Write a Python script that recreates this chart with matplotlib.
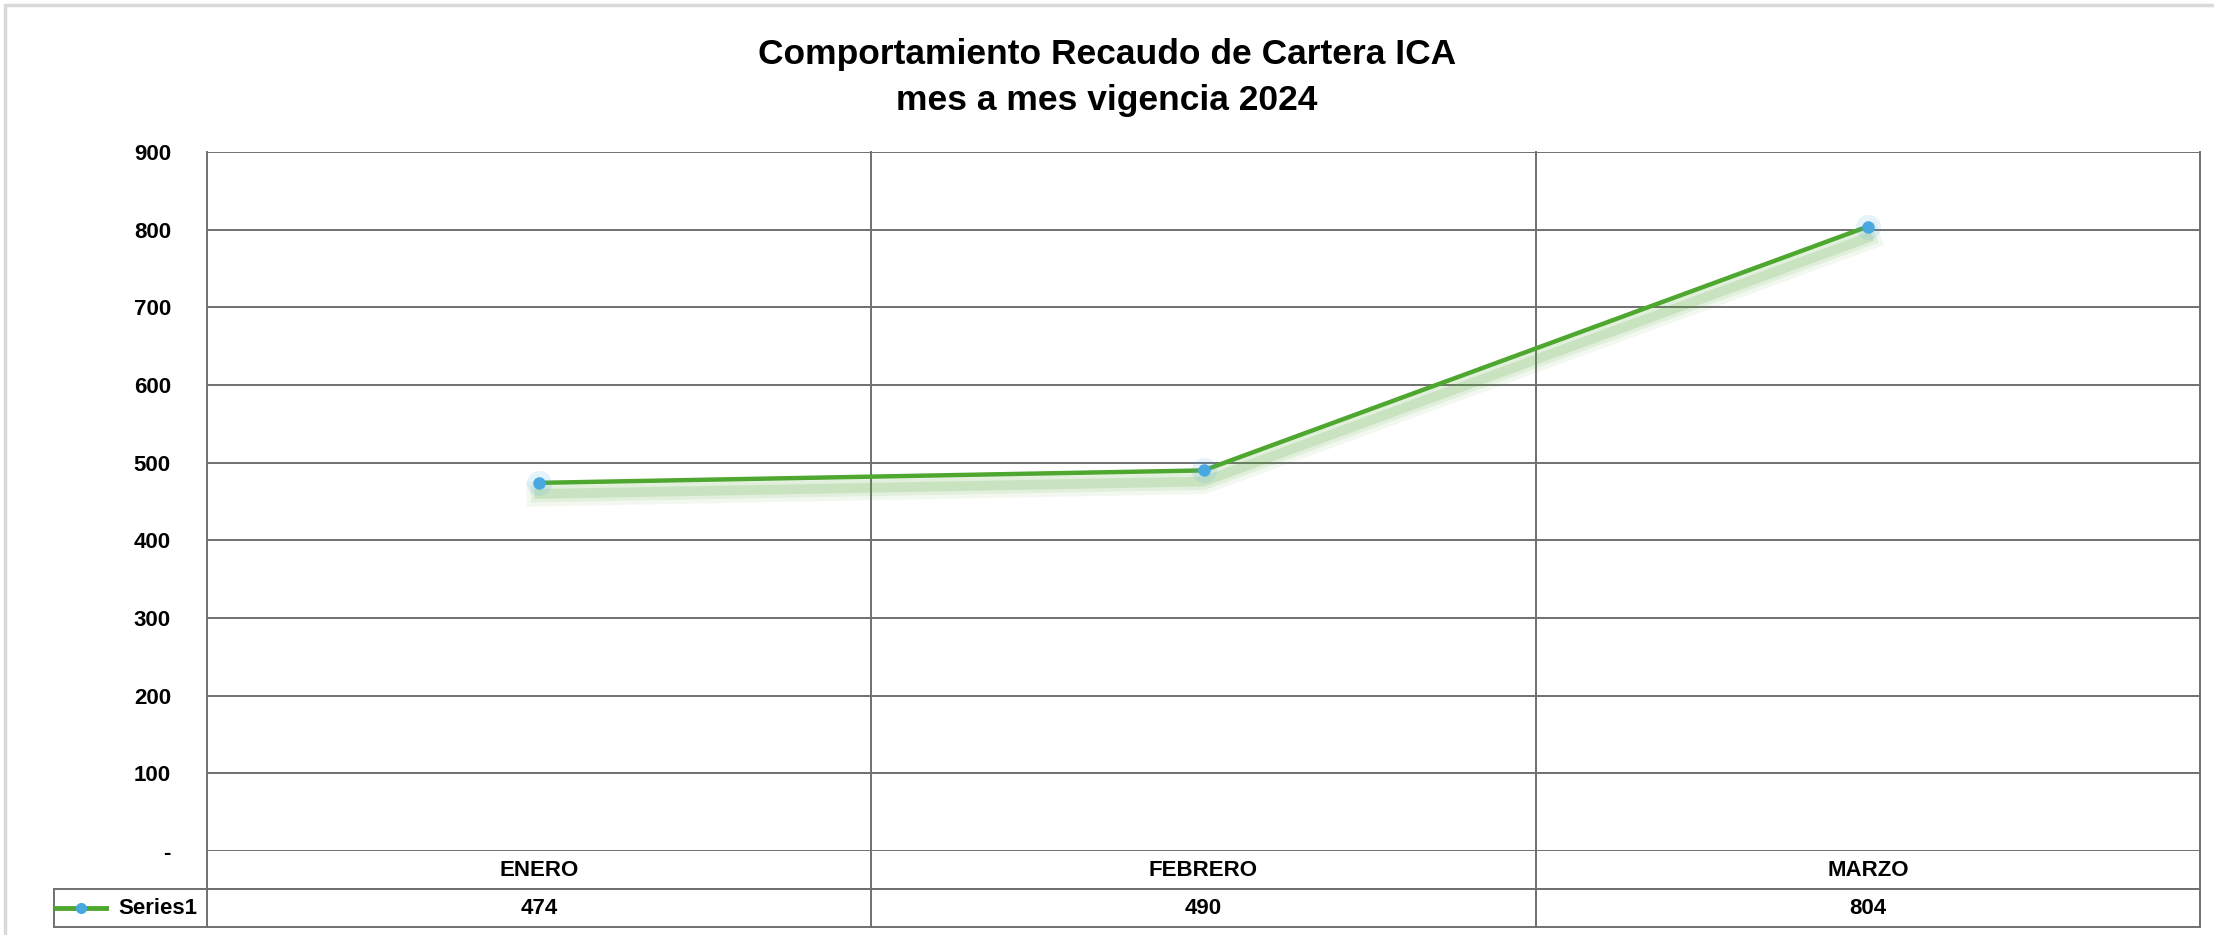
import numpy as np
import matplotlib
matplotlib.use("Agg")
import matplotlib.pyplot as plt
import matplotlib.patheffects as pe
from matplotlib.patches import Rectangle

# Data
months = ["ENERO", "FEBRERO", "MARZO"]
values = [474, 490, 804]
series_name = "Series1"
y_ticks = [0, 100, 200, 300, 400, 500, 600, 700, 800, 900]
y_labels = ["-", "100", "200", "300", "400", "500", "600", "700", "800", "900"]

LINE_GREEN = "#4ea72e"
MARKER_BLUE = "#4aa8e0"
GRID = "#707070"

plt.rcParams["font.family"] = ["Liberation Sans", "DejaVu Sans"]
plt.rcParams["font.weight"] = "bold"

W, H = 2214, 935
fig = plt.figure(figsize=(W / 100, H / 100), dpi=100)

# outer chart frame (light gray, only top/left visible)
fig.patches.append(Rectangle((5 / W, -0.1), 1.2, 1.1 - 5 / H, transform=fig.transFigure,
                             fill=False, edgecolor="#d9d9d9", lw=2.5))

left, right, top, bottom = 207 / W, 2200 / W, 1 - 152 / H, 1 - 851 / H
ax = fig.add_axes([left, bottom, right - left, top - bottom])

x = np.arange(len(months))
ax.set_xlim(-0.5, len(months) - 0.5)
ax.set_ylim(0, 900)

# grid
for yv in y_ticks:
    ax.axhline(yv, color=GRID, lw=1.4, zorder=1)
for spine in ax.spines.values():
    spine.set_visible(False)

# table geometry (axes fraction)
ax_h = 851 - 152
row1 = -(889 - 851) / ax_h
row2 = -(927 - 851) / ax_h
leg_left = (54 - 207) / (2200 - 207)

blend = ax.get_xaxis_transform()
for xv in np.arange(-0.5, len(months), 1.0):
    ax.plot([xv, xv], [1, row2], transform=blend, color=GRID, lw=1.4, clip_on=False, zorder=1)
ax.plot([-0.5, len(months) - 0.5], [row1, row1], transform=blend, color=GRID, lw=1.4, clip_on=False)
ax.plot([leg_left, 1], [row1, row1], transform=ax.transAxes, color=GRID, lw=1.4, clip_on=False)
ax.plot([leg_left, 1], [row2, row2], transform=ax.transAxes, color=GRID, lw=1.4, clip_on=False)
ax.plot([leg_left, leg_left], [row1, row2], transform=ax.transAxes, color=GRID, lw=1.4, clip_on=False)

for xi, m, v in zip(x, months, values):
    ax.text(xi, (0 + row1) / 2, m, transform=blend, ha="center", va="center",
            fontsize=16, fontweight="bold")
    ax.text(xi, (row1 + row2) / 2, f"{v}", transform=blend, ha="center", va="center",
            fontsize=16, fontweight="bold")

# legend key inside table
ymid = (row1 + row2) / 2
lx0, lx1 = (56 - 207) / 1993, (106 - 207) / 1993
ax.plot([lx0, lx1], [ymid, ymid], transform=ax.transAxes, color=LINE_GREEN, lw=3.5, clip_on=False)
ax.plot([(lx0 + lx1) / 2], [ymid], transform=ax.transAxes, marker="o", ms=7,
        color=MARKER_BLUE, clip_on=False)
ax.text((118 - 207) / 1993, ymid, series_name, transform=ax.transAxes, ha="left",
        va="center", fontsize=16, fontweight="bold")

# glow / shadow under the line
glow = [pe.SimpleLineShadow(offset=(0, -8), shadow_color=LINE_GREEN, alpha=a, linewidth=w)
        for a, w in [(0.07, 18), (0.1, 12), (0.16, 7)]]
ax.plot(x, values, color=LINE_GREEN, lw=3.2, zorder=3,
        path_effects=glow + [pe.Normal()])
ax.plot(x, values, ls="none", marker="o", ms=18, color=MARKER_BLUE, alpha=0.15, zorder=3,
        markeredgewidth=0)
ax.plot(x, values, ls="none", marker="o", ms=9, color=MARKER_BLUE, zorder=4,
        markeredgewidth=0)

ax.set_xticks([])
ax.set_yticks(y_ticks)
ax.set_yticklabels(y_labels, fontsize=16, fontweight="bold")
ax.tick_params(axis="y", length=0, pad=26)

fig.suptitle("Comportamiento Recaudo de Cartera ICA\nmes a mes vigencia 2024",
             y=1 - 38 / H, va="top", fontsize=25.5, fontweight="bold", linespacing=1.5)

fig.savefig("out.png", dpi=100)
